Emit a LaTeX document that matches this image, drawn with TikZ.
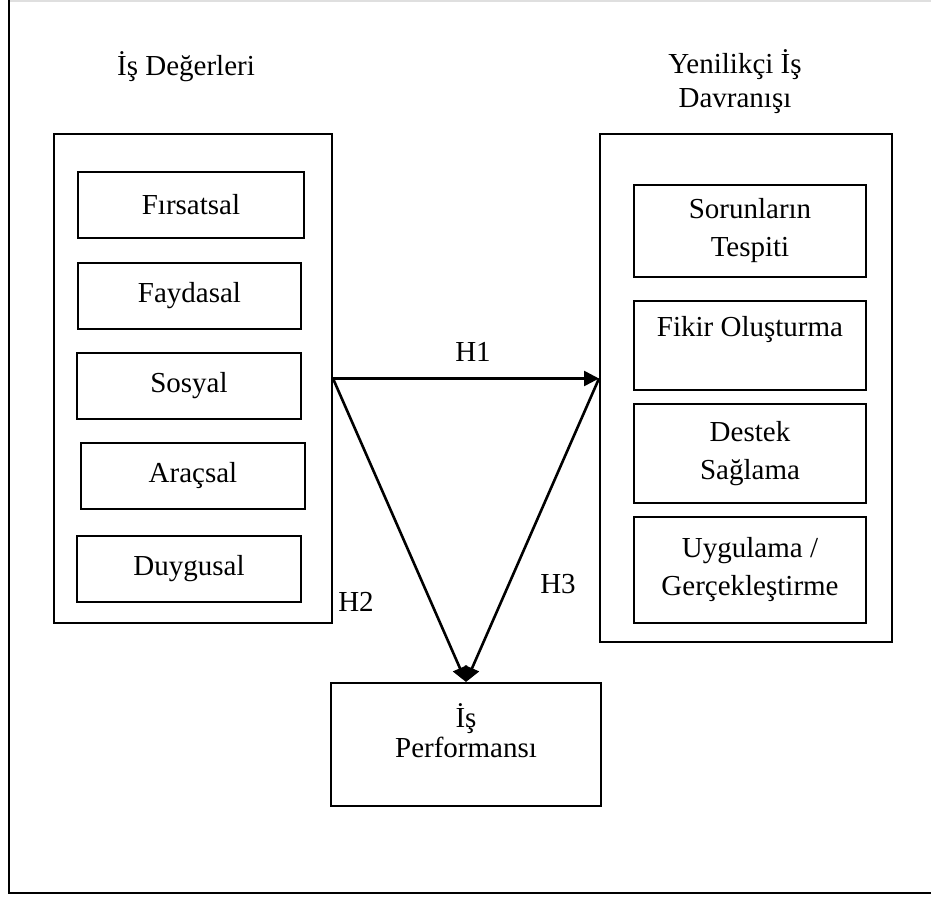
\documentclass[tikz,border=0pt]{standalone}
\usepackage{fontspec}
\setmainfont{Liberation Serif}
\usetikzlibrary{positioning,arrows.meta}

\tikzset{
  kutu/.style={draw,line width=2pt,align=center,inner sep=0pt},
  ok/.style={line width=2.6pt,-{Triangle[length=15pt,width=15pt]}},
  etiket/.style={font=\fontsize{29}{38}\selectfont}
}

\begin{document}
\begin{tikzpicture}[x=1pt,y=-1pt,every node/.style={etiket}]
  \useasboundingbox (0,0) rectangle (931,897);
  % frame
  \draw[gray!25,line width=2pt] (9,1)--(931,1);
  \draw[line width=2.5pt] (9,0)--(9,893)--(931,893);
  % titles
  \node[anchor=base] (degerT) at (186,75) {İş Değerleri};
  \node[align=center,inner sep=0pt,font=\fontsize{29}{34}\selectfont] (davranisT) at (735,82) {Yenilikçi İş\\Davranışı};
  % left group
  \node[kutu,minimum width=278pt,minimum height=489pt] (values) at (193,378.5) {};
  \node[kutu,minimum width=226pt,minimum height=66pt] (firsat) at (191,205) {Fırsatsal};
  \node[kutu,minimum width=223pt,minimum height=66pt] (fayda) at (189.5,296) {Faydasal};
  \node[kutu,minimum width=224pt,minimum height=66pt] (sosyal) at (189,386) {Sosyal};
  \node[kutu,minimum width=224pt,minimum height=66pt] (aracsal) at (193,476) {Araçsal};
  \node[kutu,minimum width=224pt,minimum height=66pt] (duygu) at (189,569) {Duygusal};
  % right group
  \node[kutu,minimum width=292pt,minimum height=508pt] (behaviour) at (746,388) {};
  \node[kutu,minimum width=232pt,minimum height=92pt] (sorun) at (750,231) {Sorunların\\Tespiti};
  \node[kutu,minimum width=232pt,minimum height=89pt] (fikir) at (750,345.5) {Fikir Oluşturma\\~};
  \node[kutu,minimum width=232pt,minimum height=99pt] (destek) at (750,453.5) {Destek\\Sağlama};
  \node[kutu,minimum width=232pt,minimum height=106pt] (uygula) at (750,570) {Uygulama /\\Gerçekleştirme};
  % outcome
  \node[kutu,minimum width=270pt,minimum height=123pt] (perf) at (466,744.5) {};
  \node[align=center,font=\fontsize{29}{30}\selectfont] (perfT) at (466,731) {İş\\Performansı};
  % hypotheses
  \coordinate (h1end) at (values.east -| behaviour.west);
  \draw[ok] (values.east) -- (h1end);
  \draw[ok] (values.east) -- (perf.north);
  \draw[ok] (h1end) -- (perf.north);
  \node (h1) at (473,352) {H1};
  \node (h2) at (356,602) {H2};
  \node (h3) at (558,584) {H3};
\end{tikzpicture}
\end{document}
